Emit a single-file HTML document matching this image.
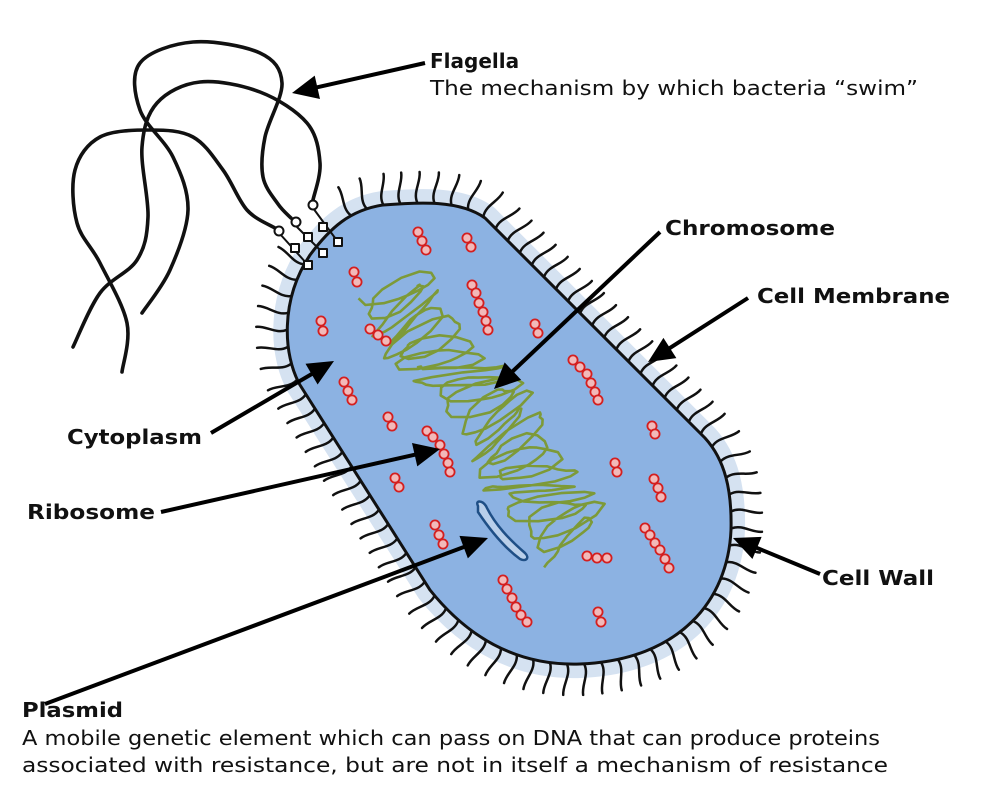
<!DOCTYPE html>
<html><head><meta charset="utf-8"><style>
html,body{margin:0;padding:0;background:#fff;}
svg{display:block;}
text{font-family:"DejaVu Sans","Liberation Sans",sans-serif;fill:#111;}
.b{font-weight:bold;font-size:20px;}
.n{font-size:20px;}
</style></head><body>
<svg id="s" width="1003" height="800" viewBox="0 0 1003 800" xmlns="http://www.w3.org/2000/svg">
<path id="halo" d="M 383 205 C 420 202, 460 200, 485 218 L 705 438 C 725 460, 732 490, 731 530 C 728 600, 680 660, 580 664 C 520 666, 470 640, 430 590 L 300 385 C 283 355, 280 300, 310 255 C 330 228, 350 210, 383 205 Z" fill="#d5e2f1" stroke="#d5e2f1" stroke-width="28" stroke-linejoin="round"/>
<g id="hairs" stroke="#111" stroke-width="2.5" fill="none" stroke-linecap="round"></g>
<path id="cell" d="M 383 205 C 420 202, 460 200, 485 218 L 705 438 C 725 460, 732 490, 731 530 C 728 600, 680 660, 580 664 C 520 666, 470 640, 430 590 L 300 385 C 283 355, 280 300, 310 255 C 330 228, 350 210, 383 205 Z" fill="#8cb2e2" stroke="#111" stroke-width="3"/>
<g id="flag" stroke="#111" stroke-width="3.6" fill="none" stroke-linecap="round" stroke-linejoin="round"></g>
<g id="chrom" stroke="#7d9a38" stroke-width="2.6" fill="none" stroke-linejoin="round"></g>
<path d="M 478 506 C 475 500, 482 500, 486 506 C 495 525, 510 540, 525 553 C 530 558, 526 562, 520 559 C 505 548, 490 530, 478 512 Z" fill="#b9cfea" stroke="#1f4f86" stroke-width="2.5"/>
<g id="ribo" fill="#f2b9b9" stroke="#d41f1f" stroke-width="1.8"></g>
<g id="arrows" stroke="#000" stroke-width="4" fill="#000"></g>

<text class="b" x="430" y="68">Flagella</text>
<text class="n" x="430" y="95" textLength="488" lengthAdjust="spacingAndGlyphs">The mechanism by which bacteria “swim”</text>
<text class="b" x="665" y="235" textLength="170" lengthAdjust="spacingAndGlyphs">Chromosome</text>
<text class="b" x="757" y="303" textLength="193" lengthAdjust="spacingAndGlyphs">Cell Membrane</text>
<text class="b" x="67" y="444" textLength="135" lengthAdjust="spacingAndGlyphs">Cytoplasm</text>
<text class="b" x="27" y="519" textLength="128" lengthAdjust="spacingAndGlyphs">Ribosome</text>
<text class="b" x="822" y="585" textLength="112" lengthAdjust="spacingAndGlyphs">Cell Wall</text>
<text class="b" x="22" y="717" textLength="101" lengthAdjust="spacingAndGlyphs">Plasmid</text>
<text class="n" x="22" y="745" textLength="858" lengthAdjust="spacingAndGlyphs">A mobile genetic element which can pass on DNA that can produce proteins</text>
<text class="n" x="22" y="772" textLength="866" lengthAdjust="spacingAndGlyphs">associated with resistance, but are not in itself a mechanism of resistance</text>
</svg>
<script>
var NS="http://www.w3.org/2000/svg";
function el(t,a,p){var e=document.createElementNS(NS,t);for(var k in a)e.setAttribute(k,a[k]);p.appendChild(e);return e;}
var cell=document.getElementById('cell'),L=cell.getTotalLength(),hg=document.getElementById('hairs');
var step=L/Math.round(L/17);
for(var d=0;d<L-1;d+=step){
 var p=cell.getPointAtLength(d),q=cell.getPointAtLength((d+1)%L);
 var tx=q.x-p.x,ty=q.y-p.y,m=Math.hypot(tx,ty)||1;tx/=m;ty/=m;
 var nx=ty,ny=-tx;
 if(p.x<345&&p.y<262&&p.x>300)continue;
 var x1=p.x+nx*1,y1=p.y+ny*1,x2=p.x+nx*31+tx*3,y2=p.y+ny*31+ty*3;
 var c1x=p.x+nx*11-tx*4,c1y=p.y+ny*11-ty*4,c2x=p.x+nx*21+tx*4,c2y=p.y+ny*21+ty*4;
 el('path',{d:'M'+x1+' '+y1+' C'+c1x+' '+c1y+' '+c2x+' '+c2y+' '+x2+' '+y2},hg);
}
function smooth(pts){var s='M'+pts[0][0]+' '+pts[0][1];
 for(var i=0;i<pts.length-1;i++){var p0=pts[i-1]||pts[i],p1=pts[i],p2=pts[i+1],p3=pts[i+2]||p2;
  s+=' C'+(p1[0]+(p2[0]-p0[0])/6)+' '+(p1[1]+(p2[1]-p0[1])/6)+' '+(p2[0]-(p3[0]-p1[0])/6)+' '+(p2[1]-(p3[1]-p1[1])/6)+' '+p2[0]+' '+p2[1];}
 return s;}
var fg=document.getElementById('flag');
var F=[
[[73,347],[100,293],[137,260],[148,217],[142,147],[157,103],[200,82],[260,92],[307,123],[320,163],[313,200]],
[[122,372],[127,323],[100,263],[77,223],[75,170],[100,137],[150,130],[193,137],[223,170],[247,210],[275,228]],
[[142,313],[170,270],[188,210],[173,157],[140,110],[140,63],[193,42],[260,53],[282,83],[265,137],[263,177],[278,204],[291,218]]];
F.forEach(function(f){el('path',{d:smooth(f)},fg);});
var sg=el('g',{stroke:'#111','stroke-width':'2',fill:'#fff'},fg);
el('line',{x1:313,y1:208,x2:338,y2:242},sg);
el('line',{x1:296,y1:226,x2:323,y2:253},sg);
el('line',{x1:280,y1:234,x2:308,y2:265},sg);
[[313,205],[296,222],[279,231]].forEach(function(c){el('circle',{cx:c[0],cy:c[1],r:4.5},sg);});
[[323,227],[308,237],[295,248],[338,242],[323,253],[308,265]].forEach(function(c){el('rect',{x:c[0]-4,y:c[1]-4,width:8,height:8},sg);});
var cg=document.getElementById('chrom');
var A=[392,285],B=[580,540],ax=B[0]-A[0],ay=B[1]-A[1],al=Math.hypot(ax,ay);ax/=al;ay/=al;
var px=-0.93,py=0.37;
var s='',N=330;
for(var i=0;i<=N;i++){var t=i/N,th=i*0.42+0.3*Math.sin(i*0.7);
 var amp=36+9*Math.sin(i*0.23)+4*Math.sin(i*1.3);
 var x=A[0]+(B[0]-A[0])*t+px*amp*Math.cos(th)+ax*13*Math.sin(th*1.1)+px*6*Math.sin(t*9);
 var y=A[1]+(B[1]-A[1])*t+py*amp*Math.cos(th)+ay*13*Math.sin(th*1.1)+py*6*Math.sin(t*9);
 s+=(i?' L':'M')+x.toFixed(1)+' '+y.toFixed(1);}
el('path',{d:s},cg);
var rg=document.getElementById('ribo');
[[418,232],[422,241],[426,250],[467,238],[471,247],[354,272],[357,282],[472,285],[476,293],[479,303],[483,312],[486,321],[488,330],[321,321],[323,331],[370,329],[378,335],[386,341],[535,324],[538,333],[344,382],[348,391],[352,400],[573,360],[580,367],[587,374],[591,383],[595,392],[598,400],[388,417],[392,426],[427,431],[433,437],[440,445],[444,454],[448,463],[450,472],[395,478],[399,487],[652,426],[655,434],[615,463],[617,472],[654,479],[658,488],[661,497],[435,525],[439,535],[443,544],[645,528],[650,535],[655,543],[660,550],[665,559],[669,568],[587,556],[597,558],[607,558],[503,580],[507,589],[512,598],[516,607],[521,615],[527,622],[598,612],[601,622]].forEach(function(c){el('circle',{cx:c[0],cy:c[1],r:4.6},rg);});
var ag=document.getElementById('arrows');
function arrow(x1,y1,x2,y2){var dx=x2-x1,dy=y2-y1,m=Math.hypot(dx,dy);dx/=m;dy/=m;
 var hl=26,hw=12,bx=x2-dx*hl,by=y2-dy*hl;
 el('line',{x1:x1,y1:y1,x2:bx+dx*2,y2:by+dy*2},ag);
 el('polygon',{points:x2+','+y2+' '+(bx-dy*hw)+','+(by+dx*hw)+' '+(bx+dy*hw)+','+(by-dx*hw),stroke:'none'},ag);}
arrow(425,63,292,93);
arrow(660,232,494,389);
arrow(748,298,648,362);
arrow(211,433,334,361);
arrow(161,512,440,449);
arrow(820,574,733,538);
arrow(45,704,488,538);
</script>
</body></html>
